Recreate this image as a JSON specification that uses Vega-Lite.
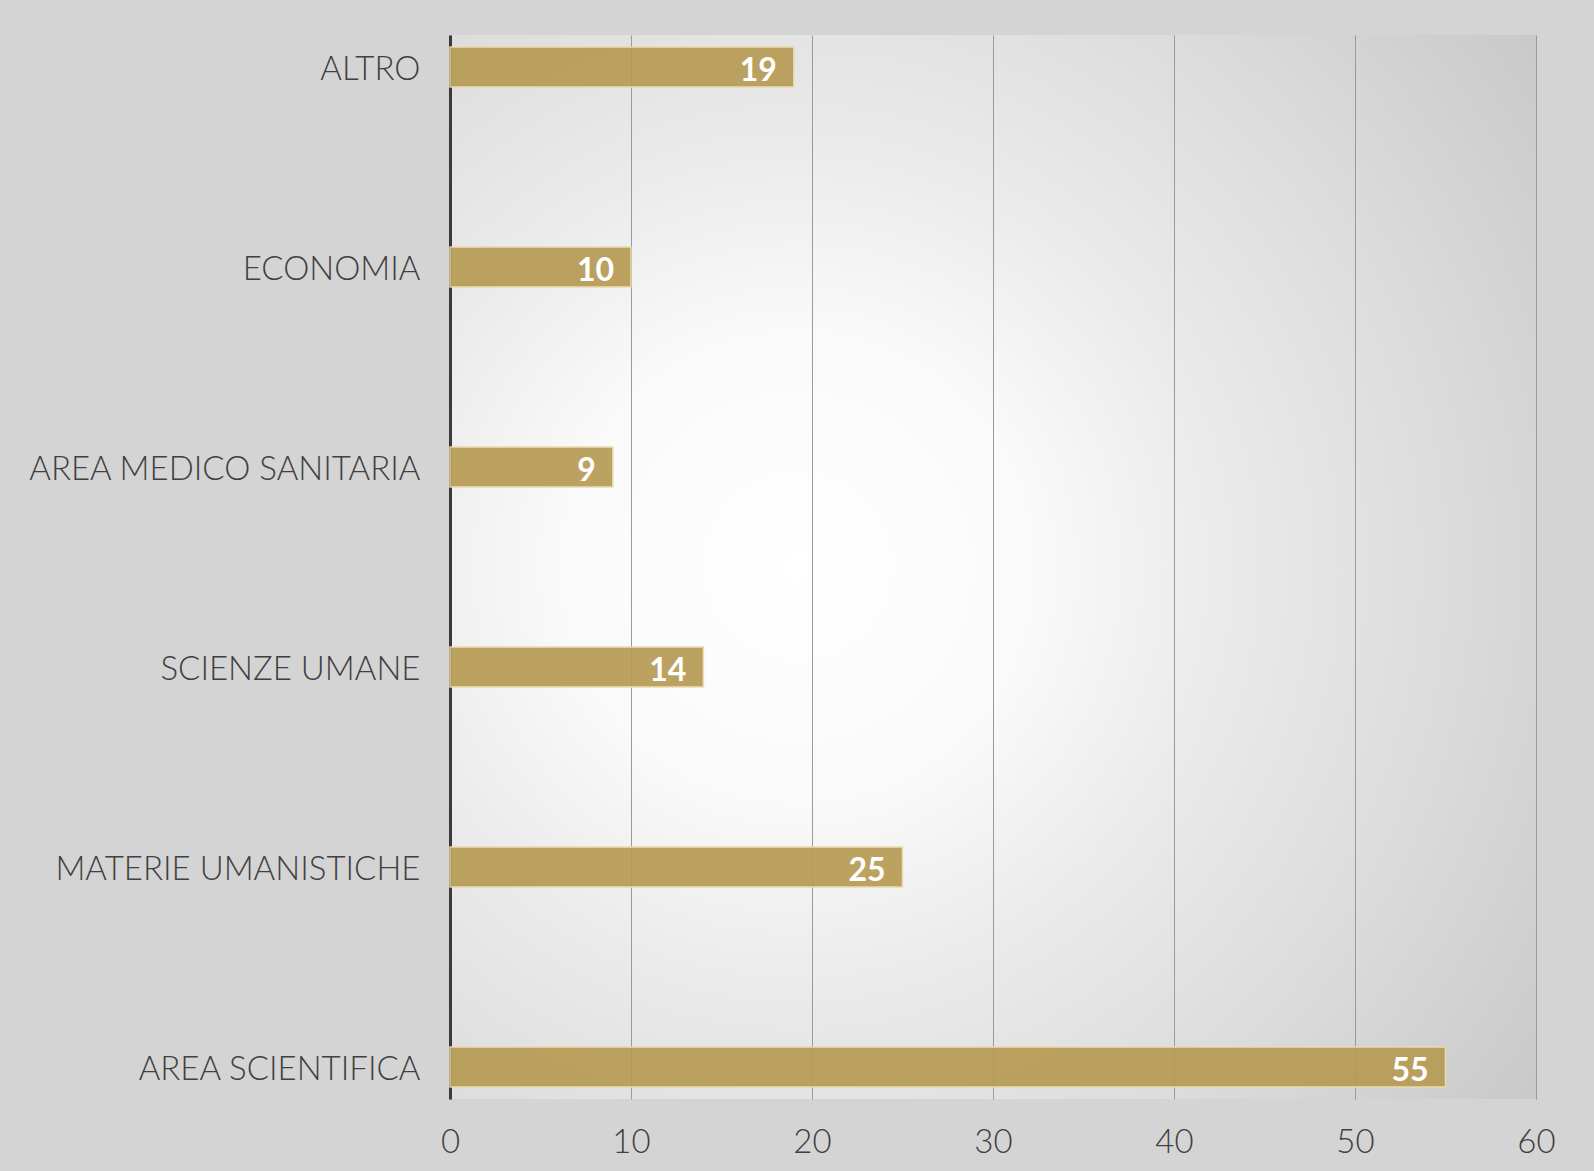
{
  "$schema": "https://vega.github.io/schema/vega-lite/v6.json",
  "autosize": "none",
  "width": 1086,
  "height": 1064,
  "padding": {"left": 450, "top": 35, "right": 58, "bottom": 72},
  "background": "#d4d4d4",
  "config": {
    "view": {
      "stroke": null,
      "fill": {
        "gradient": "radial",
        "x1": 0.32, "y1": 0.5, "r1": 0,
        "x2": 0.32, "y2": 0.5, "r2": 0.85,
        "stops": [
          {"offset": 0, "color": "#ffffff"},
          {"offset": 0.25, "color": "#fafafa"},
          {"offset": 0.45, "color": "#ebebeb"},
          {"offset": 0.7, "color": "#dcdcdc"},
          {"offset": 1, "color": "#c8c8c8"}
        ]
      }
    }
  },
  "data": {
    "values": [
      {"categoria": "ALTRO", "valore": 19},
      {"categoria": "ECONOMIA", "valore": 10},
      {"categoria": "AREA MEDICO SANITARIA", "valore": 9},
      {"categoria": "SCIENZE UMANE", "valore": 14},
      {"categoria": "MATERIE UMANISTICHE", "valore": 25},
      {"categoria": "AREA SCIENTIFICA", "valore": 55}
    ]
  },
  "encoding": {
    "y": {
      "field": "categoria",
      "type": "nominal",
      "sort": null,
      "scale": {"paddingInner": 0.8, "paddingOuter": 0.06},
      "axis": {
        "title": null,
        "domain": true,
        "domainColor": "#3a3a3a",
        "domainWidth": 3,
        "ticks": false,
        "grid": false,
        "labelPadding": 30,
        "labelOffset": 3,
        "labelLimit": 0,
        "labelFont": "Lato",
        "labelFontSize": 33,
        "labelColor": "#404040",
        "labelFontWeight": 300
      }
    },
    "x": {
      "field": "valore",
      "type": "quantitative",
      "scale": {"domain": [0, 60], "nice": false},
      "axis": {
        "title": null,
        "values": [0, 10, 20, 30, 40, 50, 60],
        "domain": false,
        "ticks": false,
        "grid": true,
        "gridColor": "#9a9a9a",
        "gridWidth": 1,
        "labelPadding": 27,
        "labelFont": "Lato",
        "labelFontSize": 33,
        "labelColor": "#404040",
        "labelFontWeight": 300,
        "labelFlush": false
      }
    }
  },
  "layer": [
    {
      "mark": {
        "type": "bar",
        "color": "#b89c55",
        "opacity": 0.93,
        "stroke": "#eadcae",
        "strokeWidth": 1.5
      }
    },
    {
      "mark": {
        "type": "text",
        "align": "right",
        "baseline": "middle",
        "dx": -17,
        "dy": 4,
        "color": "#ffffff",
        "font": "Lato",
        "fontSize": 32,
        "fontWeight": "bold"
      },
      "encoding": {
        "text": {"field": "valore", "type": "quantitative"}
      }
    }
  ]
}
